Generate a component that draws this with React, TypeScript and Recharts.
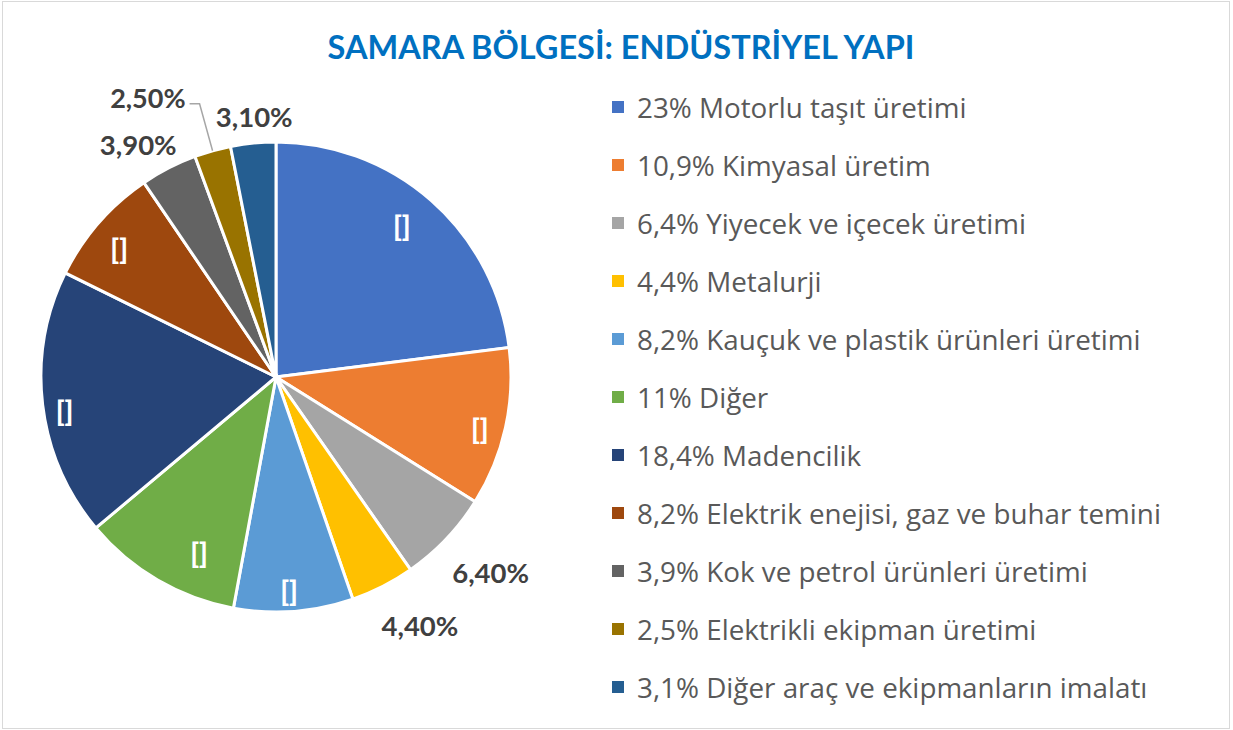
import React from "react";
import { PieChart, Pie, Cell, Legend } from "recharts";

const categories = [
  "23% Motorlu taşıt üretimi",
  "10,9% Kimyasal üretim",
  "6,4% Yiyecek ve içecek üretimi",
  "4,4% Metalurji",
  "8,2% Kauçuk ve plastik ürünleri üretimi",
  "11% Diğer",
  "18,4% Madencilik",
  "8,2% Elektrik enejisi, gaz ve buhar temini",
  "3,9% Kok ve petrol ürünleri üretimi",
  "2,5% Elektrikli ekipman üretimi",
  "3,1% Diğer araç ve ekipmanların imalatı",
];
const values = [23, 10.9, 6.4, 4.4, 8.2, 11, 18.4, 8.2, 3.9, 2.5, 3.1];
const dataLabels = ["[]", "[]", "6,40%", "4,40%", "[]", "[]", "[]", "[]", "3,90%", "2,50%", "3,10%"];
const colors = [
  "#4472C4", "#ED7D31", "#A5A5A5", "#FFC000", "#5B9BD5", "#70AD47",
  "#264478", "#9E480E", "#636363", "#997300", "#255E91",
];

// label placement styling: angular nudge (deg) and radial offset from the outer radius (px)
const labelAngleNudge = [1.7, -1.6, 1.3, 3.1, -0.8, 6.5, 2.0, 1.6, 3.5, 0, -0.8];
const labelRadialOffset = [-38, -25, 55, 52, -22, -44, -21, -32, 35, 0, 26];

const data = categories.map((name, i) => ({ name, value: values[i], label: dataLabels[i] }));

const FONT = "Lato, 'Open Sans', sans-serif";
const LEGEND_FONT = "'Open Sans', Lato, sans-serif";
const RAD = Math.PI / 180;

const renderLabel = (props: any) => {
  const { cx, cy, midAngle, outerRadius, index } = props;
  const text = dataLabels[index];
  if (index === 9) {
    const cos = Math.cos(-midAngle * RAD);
    const sin = Math.sin(-midAngle * RAD);
    const sx = cx + outerRadius * cos;
    const sy = cy + outerRadius * sin;
    const ex = sx - 13;
    const ey = sy - 47;
    const hx = ex - 10;
    return (
      <g>
        <polyline points={`${sx},${sy} ${ex},${ey} ${hx},${ey}`} fill="none" stroke="#A6A6A6" strokeWidth={1.5} />
        <text x={hx - 4} y={ey - 6} fill="#404040" fontFamily={FONT} fontWeight={700}
          fontSize={27} textAnchor="end" dominantBaseline="central">{text}</text>
      </g>
    );
  }
  const a = (midAngle + labelAngleNudge[index]) * RAD;
  const r = outerRadius + labelRadialOffset[index];
  const x = cx + r * Math.cos(-a);
  const y = cy + r * Math.sin(-a);
  if (text === "[]") {
    return (
      <text x={x} y={y} fill="#fff" fontFamily={FONT} fontWeight={900}
        fontSize={28} textAnchor="middle" dominantBaseline="central">{text}</text>
    );
  }
  return (
    <text x={x} y={y} fill="#404040" fontFamily={FONT} fontWeight={700}
      fontSize={27.5} textAnchor="middle" dominantBaseline="central">{text}</text>
  );
};

const renderLegend = () => (
  <div style={{ fontFamily: LEGEND_FONT }}>
    {data.map((d, i) => (
      <div key={d.name} style={{ height: 58, display: "flex", alignItems: "center" }}>
        <span style={{ width: 12, height: 12, background: colors[i], display: "inline-block", marginRight: 13 }} />
        <span style={{ fontSize: 27.8, color: "#595959", whiteSpace: "nowrap" }}>{d.name}</span>
      </div>
    ))}
  </div>
);

export default function App() {
  return (
    <div style={{ position: "fixed", left: 0, top: 0, width: 1233, height: 730, background: "#fff" }}>
      <div style={{ position: "absolute", left: 2, top: 1, width: 1226, height: 726, border: "1px solid #D9D9D9" }} />
      <div style={{
        position: "absolute", left: 0, top: 27, width: 1242, textAlign: "center",
        fontFamily: FONT, fontWeight: 700, fontSize: 32.5, color: "#0070C0",
      }}>SAMARA BÖLGESİ: ENDÜSTRİYEL YAPI</div>
      <div style={{ position: "absolute", left: 0, top: 0 }}>
        <PieChart width={1233} height={730} margin={{ top: 0, right: 0, bottom: 0, left: 0 }}>
          <Pie
            data={data}
            dataKey="value"
            nameKey="name"
            cx={276}
            cy={377}
            outerRadius={235}
            startAngle={90}
            endAngle={-270}
            stroke="#fff"
            strokeWidth={3}
            label={renderLabel}
            labelLine={false}
            isAnimationActive={false}
          >
            {data.map((d, i) => (
              <Cell key={d.name} fill={colors[i]} />
            ))}
          </Pie>
          <Legend
            layout="vertical"
            align="right"
            verticalAlign="top"
            content={renderLegend}
            wrapperStyle={{ left: 612, top: 78, width: 620 }}
          />
        </PieChart>
      </div>
    </div>
  );
}
